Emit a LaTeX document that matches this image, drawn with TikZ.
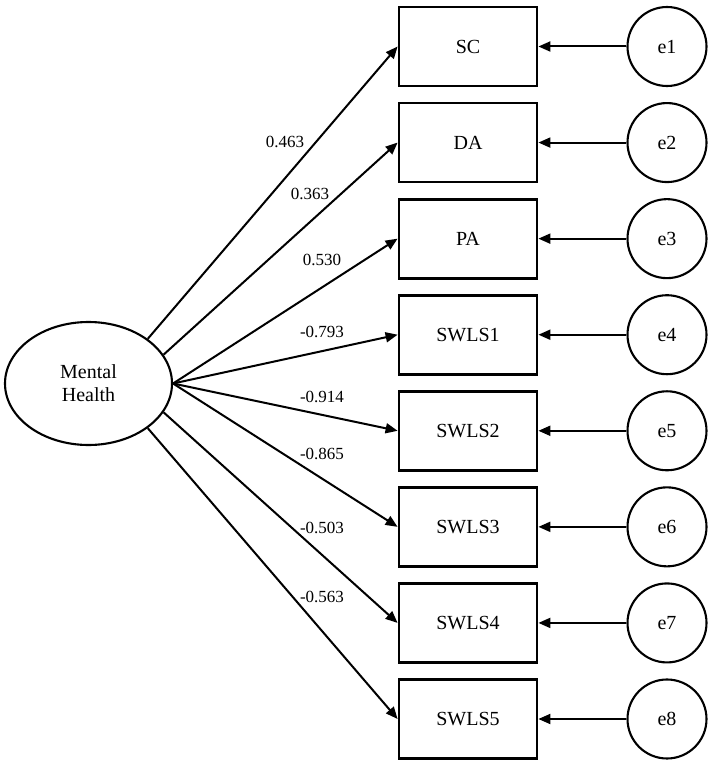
\documentclass[tikz,border=0pt]{standalone}
\usepackage{fontspec}
\setmainfont{Liberation Serif}
\usetikzlibrary{arrows.meta,shapes.geometric}
\begin{document}
\begin{tikzpicture}[x=1pt,y=-1pt,
  obs/.style={draw,line width=2.8pt,minimum width=138pt,minimum height=79pt,inner sep=0pt,font=\fontsize{20}{24}\selectfont},
  err/.style={draw,circle,line width=2.1pt,minimum size=79pt,inner sep=0pt,font=\fontsize{20}{24}\selectfont},
  lat/.style={draw,ellipse,line width=2.1pt,minimum width=167pt,minimum height=123pt,inner sep=0pt,align=center,font=\fontsize{20}{23}\selectfont},
  path/.style={line width=2pt,-{Triangle[length=12pt,width=10pt]}},
  coef/.style={font=\fontsize{17}{20}\selectfont,inner sep=0pt}]
\useasboundingbox (0,0) rectangle (714,768);

% latent factor
\node[lat] (mh) at (88.5,383.5) {Mental\\Health};

% indicators and their error terms
\foreach \n/\t [count=\i from 0] in {sc/SC,da/DA,pa/PA,s1/SWLS1,s2/SWLS2,s3/SWLS3,s4/SWLS4,s5/SWLS5}{
  \node[obs] (\n) at (468,46.5+96.07*\i) {\t};
  \pgfmathtruncatemacro\k{\i+1}
  \node[err] (e\n) at (667,46.5+96.07*\i) {e\k};
  \draw[path] (e\n.west) -- (\n.east);
}

% factor loadings
\draw[path] (mh.37.6) -- (sc.west);
\draw[path] (mh.21.3) -- (da.west);
\draw[path] (mh.east) -- (pa.west);
\draw[path] (mh.east) -- (s1.west);
\draw[path] (mh.east) -- (s2.west);
\draw[path] (mh.east) -- (s3.west);
\draw[path] (mh.-21.5) -- (s4.west);
\draw[path] (mh.-37.6) -- (s5.west);

% loading values
\node[coef] (l1) at (285,142) {0.463};
\node[coef] (l2) at (310,194) {0.363};
\node[coef] (l3) at (322,260) {0.530};
\node[coef] (l4) at (322,332) {-0.793};
\node[coef] (l5) at (322,397) {-0.914};
\node[coef] (l6) at (322,454) {-0.865};
\node[coef] (l7) at (322,528) {-0.503};
\node[coef] (l8) at (322,597) {-0.563};
\end{tikzpicture}
\end{document}
